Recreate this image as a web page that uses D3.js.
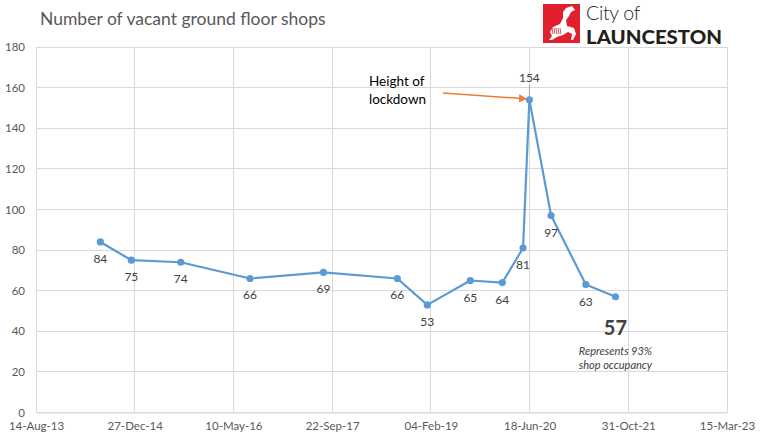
<!DOCTYPE html>
<html><head><meta charset="utf-8">
<script src="https://cdn.jsdelivr.net/npm/d3@7"></script>
<style>
html,body{margin:0;padding:0;background:#fff;}
svg{display:block;font-family:Lato,"Open Sans",sans-serif;}
</style></head>
<body>
<svg id="chart" width="764" height="441"></svg>
<script>
// ---- data ----
const dates = ["2014-07-06","2014-12-10","2015-08-17","2016-08-02","2017-08-09","2018-08-18","2019-01-17","2019-08-23","2020-02-01","2020-05-16","2020-06-17","2020-10-05","2021-03-30","2021-08-27"];
const values = [84,75,74,66,69,66,53,65,64,81,154,97,63,57];
const xTickLabels = ["14-Aug-13","27-Dec-14","10-May-16","22-Sep-17","04-Feb-19","18-Jun-20","31-Oct-21","15-Mar-23"];
const yTicks = [0,20,40,60,80,100,120,140,160,180];
const title = "Number of vacant ground floor shops";
const annotationText = ["Height of","lockdown"];
const finalNote = ["Represents 93%","shop occupancy"];

const parse = d3.timeParse("%Y-%m-%d");
const parseTick = d3.timeParse("%d-%b-%y");
const fmt = d3.timeFormat("%d-%b-%y");
const data = dates.map((d,i)=>({date:parse(d), value:values[i]}));
const tickDates = xTickLabels.map(t=>parseTick(t));

const svg = d3.select("#chart");
const L=36, R=727, T=47, B=412.5;

const x = d3.scaleTime().domain([tickDates[0], tickDates[tickDates.length-1]]).range([L,R]);
const y = d3.scaleLinear().domain([0,180]).range([B,T]);

// title
svg.append("text").attr("x",40).attr("y",25).attr("font-size",17.5).attr("fill","#595959").text(title);

// grid
svg.append("g").selectAll("line").data(yTicks).join("line")
  .attr("x1",L).attr("x2",R).attr("y1",d=>y(d)).attr("y2",d=>y(d))
  .attr("stroke","#d9d9d9").attr("stroke-width",1).attr("shape-rendering","crispEdges");
svg.append("g").selectAll("line").data(tickDates).join("line")
  .attr("x1",d=>x(d)).attr("x2",d=>x(d)).attr("y1",T).attr("y2",B)
  .attr("stroke","#d9d9d9").attr("stroke-width",1).attr("shape-rendering","crispEdges");

// axes
const yAxis = d3.axisLeft(y).tickValues(yTicks).tickSize(0).tickPadding(11);
const gy = svg.append("g").attr("transform",`translate(${L},0)`).call(yAxis);
gy.select(".domain").remove();
gy.selectAll("text").attr("font-size",11.5).attr("fill","#595959").attr("font-family","Lato,sans-serif");

const xAxis = d3.axisBottom(x).tickValues(tickDates).tickFormat(fmt).tickSize(0).tickPadding(9);
const gx = svg.append("g").attr("transform",`translate(0,${B})`).call(xAxis);
gx.select(".domain").attr("stroke","#d9d9d9");
gx.selectAll("text").attr("font-size",11.5).attr("fill","#595959").attr("font-family","Lato,sans-serif");

// line
const line = d3.line().x(d=>x(d.date)).y(d=>y(d.value));
svg.append("path").datum(data).attr("d",line).attr("fill","none")
  .attr("stroke","#5b9bd5").attr("stroke-width",2.2).attr("stroke-linejoin","round");
svg.append("g").selectAll("circle").data(data).join("circle")
  .attr("cx",d=>x(d.date)).attr("cy",d=>y(d.value)).attr("r",3.6).attr("fill","#5b9bd5");

// data labels
const peak = d3.max(values);
const labelData = data.slice(0, data.length-1);
svg.append("g").selectAll("text").data(labelData).join("text")
  .attr("x",d=>x(d.date)).attr("y",d=> d.value===peak ? y(d.value)-18 : y(d.value)+21)
  .attr("text-anchor","middle").attr("font-size",12).attr("fill","#404040").text(d=>d.value);

// leader line for peak
const pk = data.find(d=>d.value===peak);
svg.append("line").attr("x1",x(pk.date)).attr("x2",x(pk.date)).attr("y1",y(pk.value)-15).attr("y2",y(pk.value))
  .attr("stroke","#a6a6a6").attr("stroke-width",1);

// annotation
svg.append("text").attr("x",369).attr("y",86).attr("font-size",13.5).attr("fill","#000").text(annotationText[0]);
svg.append("text").attr("x",369).attr("y",104).attr("font-size",13.5).attr("fill","#000").text(annotationText[1]);
const defs = svg.append("defs");
defs.append("marker").attr("id","arr").attr("viewBox","0 0 10 10").attr("refX",8).attr("refY",5)
  .attr("markerWidth",5).attr("markerHeight",5).attr("orient","auto")
  .append("path").attr("d","M0,0L10,5L0,10z").attr("fill","#ed7d31");
svg.append("line").attr("x1",443).attr("y1",93).attr("x2",x(pk.date)-4).attr("y2",y(pk.value)-1)
  .attr("stroke","#ed7d31").attr("stroke-width",1.6).attr("marker-end","url(#arr)");

// final value callout
const last = data[data.length-1];
svg.append("text").attr("x",x(last.date)).attr("y",y(last.value)+38).attr("text-anchor","middle")
  .attr("font-size",20).attr("font-weight","bold").attr("fill","#404040").text(last.value);
svg.append("text").attr("x",x(last.date)).attr("y",y(last.value)+58).attr("text-anchor","middle")
  .attr("font-size",11).attr("font-style","italic").attr("fill","#404040").text(finalNote[0]);
svg.append("text").attr("x",x(last.date)).attr("y",y(last.value)+72).attr("text-anchor","middle")
  .attr("font-size",11).attr("font-style","italic").attr("fill","#404040").text(finalNote[1]);

// logo
const logo = svg.append("g");
logo.append("rect").attr("x",543).attr("y",4).attr("width",37).attr("height",39).attr("fill","#e0202f");
logo.append("path").attr("fill","#fff").attr("d",
  "M566,8 L572,6 L575,10 L571,12 L569,16 L566,20 L567,26 L574,28 L576,34 L573,40 L571,40 L572,34 L568,32 L563,35 L557,37 L552,40 L549,40 L552,36 L550,32 L553,27 L560,24 L563,18 L563,12 Z");
logo.append("g").selectAll("line").data([0,1,2,3,4]).join("line")
  .attr("x1",d=>552+d*2).attr("x2",d=>553+d*2).attr("y1",28).attr("y2",34)
  .attr("stroke","#e0202f").attr("stroke-width",0.8);
logo.append("text").attr("x",586).attr("y",20).attr("font-size",19.5).attr("font-weight",300)
  .attr("fill","#231f20").attr("font-family","Lato,sans-serif").attr("letter-spacing",-0.3).text("City of");
logo.append("text").attr("x",586).attr("y",43.5).attr("font-size",18.5).attr("font-weight",900)
  .attr("fill","#231f20").attr("font-family","Lato,sans-serif").attr("textLength",136).attr("lengthAdjust","spacingAndGlyphs").text("LAUNCESTON");
</script>
</body></html>
